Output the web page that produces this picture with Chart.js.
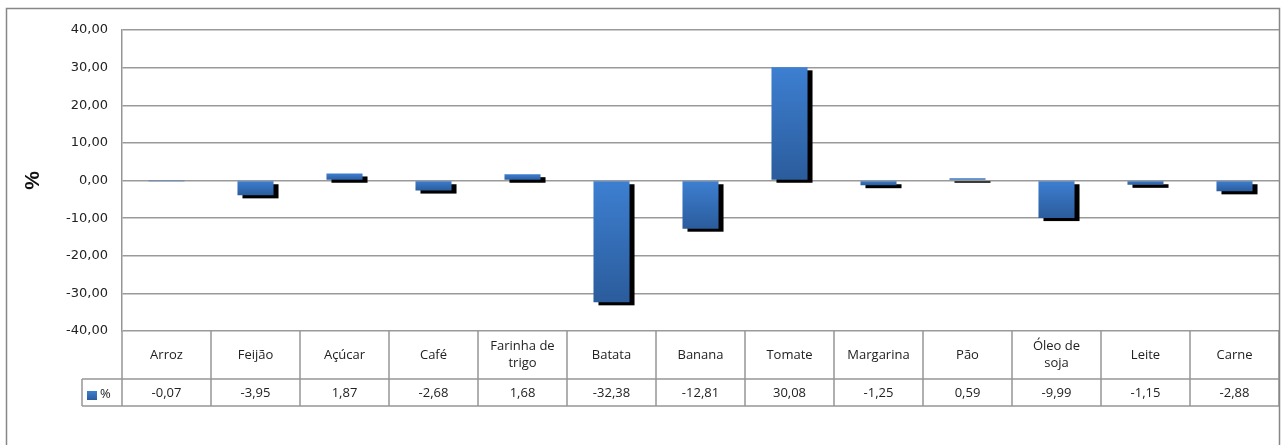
<!DOCTYPE html>
<html>
<head>
<meta charset="utf-8">
<script src="https://cdn.jsdelivr.net/npm/chart.js@4.4.1/dist/chart.umd.min.js"></script>
<style>
  html, body { margin: 0; padding: 0; background: #fff; }
  #wrap { width: 1282px; height: 445px; position: relative; }
</style>
</head>
<body>
<div id="wrap"><canvas id="varChart"></canvas></div>
<script>
// categorias e variação (%)
const categories = ['Arroz', 'Feijão', 'Açúcar', 'Café', ['Farinha de', 'trigo'], 'Batata', 'Banana',
  'Tomate', 'Margarina', 'Pão', ['Óleo de', 'soja'], 'Leite', 'Carne'];
const values = [-0.07, -3.95, 1.87, -2.68, 1.68, -32.38, -12.81, 30.08, -1.25, 0.59, -9.99, -1.15, -2.88];
const seriesName = '%';
const yMin = -40, yMax = 40, yStep = 10;

const fmt = v => v.toFixed(2).replace('.', ',');
const tableFont = '13px "Open Sans", "Noto Sans", sans-serif';
const lineCol = '#969696';

// sombra preta atrás das barras
const shadowPlugin = {
  id: 'barShadow',
  beforeDatasetsDraw(chart) {
    const ctx = chart.ctx;
    const meta = chart.getDatasetMeta(0);
    ctx.save();
    ctx.fillStyle = '#000';
    meta.data.forEach(bar => {
      const p = bar.getProps(['x', 'y', 'base', 'width'], true);
      const top = Math.min(p.y, p.base), bot = Math.max(p.y, p.base);
      if (bot - top < 1) return;
      ctx.fillRect(p.x - p.width / 2 + 5, top + 3, p.width, bot - top);
    });
    ctx.restore();
  }
};

// tabela de dados + moldura
const tablePlugin = {
  id: 'dataTable',
  afterDraw(chart) {
    const ctx = chart.ctx;
    const area = chart.chartArea;
    const colW = (area.right - area.left) / categories.length;
    const row1 = area.bottom, row2 = 379, row3 = 406;
    const legendLeft = 82;
    ctx.save();
    ctx.strokeStyle = lineCol;
    ctx.lineWidth = 1.5;
    ctx.beginPath();
    for (let i = 0; i <= categories.length; i++) {
      const x = area.left + i * colW;
      ctx.moveTo(x, row1); ctx.lineTo(x, row3);
    }
    ctx.moveTo(legendLeft, row2); ctx.lineTo(area.right, row2);
    ctx.moveTo(legendLeft, row3); ctx.lineTo(area.right, row3);
    ctx.moveTo(legendLeft, row2); ctx.lineTo(legendLeft, row3);
    ctx.stroke();

    ctx.fillStyle = '#222';
    ctx.font = tableFont;
    ctx.textAlign = 'center';
    ctx.textBaseline = 'middle';
    categories.forEach((c, i) => {
      const cx = area.left + (i + 0.5) * colW;
      if (Array.isArray(c)) {
        ctx.fillText(c[0], cx, 346);
        ctx.fillText(c[1], cx, 363);
      } else {
        ctx.fillText(c, cx, 355);
      }
      ctx.fillText(fmt(values[i]), cx, 393);
    });
    // legenda
    const g = ctx.createLinearGradient(0, 391, 0, 400);
    g.addColorStop(0, '#3d7fd1'); g.addColorStop(1, '#2b5c9c');
    ctx.fillStyle = g;
    ctx.fillRect(87, 391, 10, 9);
    ctx.fillStyle = '#222';
    ctx.textAlign = 'left';
    ctx.fillText(seriesName, 100, 394);

    // moldura externa
    ctx.strokeStyle = '#878787';
    ctx.lineWidth = 1.5;
    ctx.strokeRect(6.5, 8.5, 1273, 450);
    ctx.restore();
  }
};

const ChartV = document.getElementById('varChart');
const varChart = new Chart(ChartV, {
  type: 'bar',
  data: {
    labels: categories,
    datasets: [{
      label: seriesName,
      data: values,
      backgroundColor: c => {
        const chart = c.chart;
        if (!chart.chartArea || c.type !== 'data') return '#3570b8';
        const ys = chart.scales.y;
        const v = values[c.dataIndex];
        const t = ys.getPixelForValue(Math.max(v, 0));
        const b = ys.getPixelForValue(Math.min(v, 0));
        if (b - t < 1) return '#3570b8';
        const g = chart.ctx.createLinearGradient(0, t, 0, b);
        g.addColorStop(0, '#3d7fd1');
        g.addColorStop(1, '#2b5c9c');
        return g;
      },
      borderWidth: 0,
      barPercentage: 0.405,
      categoryPercentage: 1
    }]
  },
  options: {
    responsive: true,
    maintainAspectRatio: false,
    animation: false,
    layout: { padding: { left: 0, top: 30, right: 3, bottom: 114 } },
    scales: {
      x: { display: false },
      y: {
        min: yMin,
        max: yMax,
        afterFit: s => { s.width = 122; },
        ticks: {
          stepSize: yStep,
          padding: 14,
          color: '#222',
          font: { family: '"DejaVu Sans", sans-serif', size: 13 },
          callback: v => fmt(v)
        },
        grid: { color: '#9a9a9a', lineWidth: 1.5, drawTicks: false },
        border: { color: lineCol, width: 1.5 },
        title: {
          display: true,
          text: '%',
          color: '#111',
          font: { family: '"Liberation Sans", sans-serif', size: 21, weight: 'bold' },
          padding: { top: 21, bottom: 0 }
        }
      }
    },
    plugins: {
      legend: { display: false },
      tooltip: { enabled: false }
    }
  },
  plugins: [shadowPlugin, tablePlugin]
});
</script>
</body>
</html>
